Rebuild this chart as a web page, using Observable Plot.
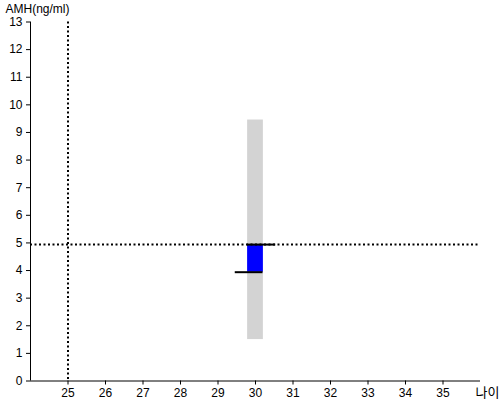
<!DOCTYPE html>
<html>
<head>
<meta charset="utf-8">
<script src="https://cdn.jsdelivr.net/npm/d3@7"></script>
<script src="https://cdn.jsdelivr.net/npm/@observablehq/plot@0.6"></script>
<style>
  html, body { margin: 0; padding: 0; background: #fff; }
  #chart svg { display: block; }
</style>
</head>
<body>
<div id="chart"></div>
<script>
// Data
const ages = [30];
const rangeLow = [1.5];
const rangeHigh = [9.45];
const valueLow = [3.94];
const valueHigh = [4.94];
const topLineX1 = [29.78], topLineX2 = [30.54], topLineY = [4.94];
const bottomLineX1 = [29.46], bottomLineX2 = [30.2], bottomLineY = [3.94];
const refAge = [25];
const refAmh = [4.94];
const xTicks = [25, 26, 27, 28, 29, 30, 31, 32, 33, 34, 35];
const yTicks = [0, 1, 2, 3, 4, 5, 6, 7, 8, 9, 10, 11, 12, 13];
const yLabel = "AMH(ng/ml)";
const xLabel = "나이";

const halfW = 0.21;
const bars = ages.map((a, i) => ({a, lo: rangeLow[i], hi: rangeHigh[i], vlo: valueLow[i], vhi: valueHigh[i]}));
const segs = [
  ...topLineY.map((y, i) => ({x1: topLineX1[i], x2: topLineX2[i], y})),
  ...bottomLineY.map((y, i) => ({x1: bottomLineX1[i], x2: bottomLineX2[i], y}))
];

const chart = Plot.plot({
  width: 500,
  height: 400,
  marginLeft: 30,
  marginRight: 20,
  marginTop: 21.5,
  marginBottom: 19.5,
  style: {fontFamily: "'Liberation Sans', Arial, 'Noto Sans CJK KR', sans-serif", fontSize: "12px", color: "#000", background: "#fff"},
  x: {domain: [24, 36], ticks: xTicks, tickSize: 4, tickPadding: 3, label: null, tickFormat: d => d},
  y: {domain: [0, 13], ticks: yTicks, tickSize: 4, tickPadding: 4, label: null, tickFormat: d => d},
  marks: [
    Plot.rectY(bars, {x1: d => d.a - halfW, x2: d => d.a + halfW, y1: "lo", y2: "hi", fill: "#d3d3d3"}),
    Plot.rectY(bars, {x1: d => d.a - halfW, x2: d => d.a + halfW, y1: "vlo", y2: "vhi", fill: "#0000ff"}),
    Plot.ruleX(refAge, {stroke: "#000", strokeWidth: 2, strokeDasharray: "2,2.5"}),
    Plot.ruleY(refAmh, {stroke: "#000", strokeWidth: 2, strokeDasharray: "2,2.5"}),
    Plot.ruleY(segs, {x1: "x1", x2: "x2", y: "y", stroke: "#000", strokeWidth: 2}),
    Plot.ruleX([24], {stroke: "#000", strokeWidth: 1}),
    Plot.ruleY([0], {stroke: "#000", strokeWidth: 1}),
    Plot.text([yLabel], {frameAnchor: "top-left", dx: -25, dy: -13, textAnchor: "start", lineAnchor: "middle", fill: "#000", fontSize: 12}),
    Plot.text([xLabel], {frameAnchor: "bottom-right", dx: -5, dy: 12, textAnchor: "start", lineAnchor: "middle", fill: "#000", fontSize: 13})
  ]
});
document.getElementById("chart").appendChild(chart);
</script>
</body>
</html>
